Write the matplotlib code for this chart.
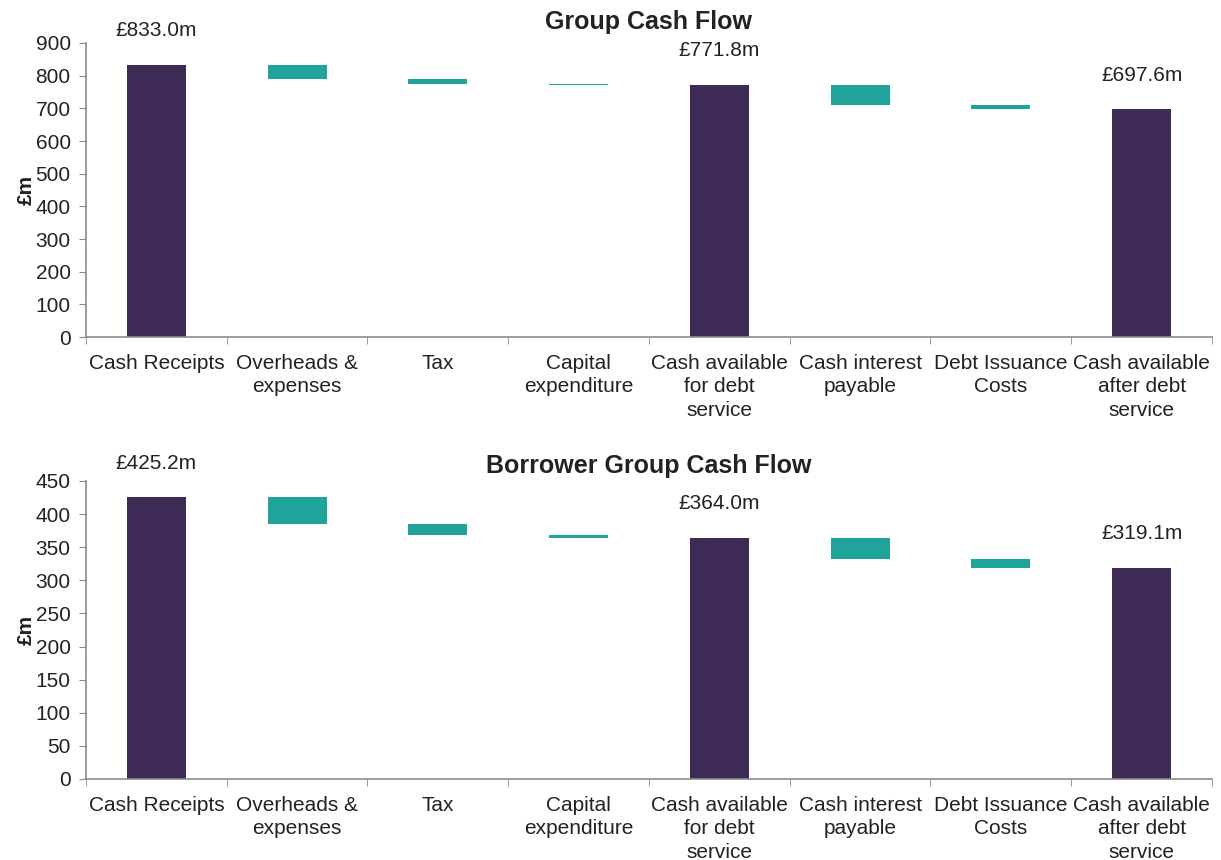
import matplotlib
matplotlib.use("Agg")
import matplotlib.pyplot as plt

plt.rcParams['font.family'] = ['Liberation Sans', 'DejaVu Sans']

# categories shared by both waterfalls
categories = ["Cash Receipts", "Overheads &\nexpenses", "Tax", "Capital\nexpenditure",
              "Cash available\nfor debt\nservice", "Cash interest\npayable",
              "Debt Issuance\nCosts", "Cash available\nafter debt\nservice"]
is_total = [True, False, False, False, True, False, False, True]

# running levels (£m): bar ends for each step
group_levels = [833.0, 790.0, 775.5, 771.8, 771.8, 709.0, 697.6, 697.6]
borrower_levels = [425.2, 385.0, 368.5, 364.0, 364.0, 332.3, 319.1, 319.1]

total_color = "#3d2b56"
step_color = "#1fa39b"
axis_grey = "#8c8c8c"
text_col = "#222222"


def waterfall(ax, levels, title, ymax, ystep, title_y):
    prev = 0
    for i, lvl in enumerate(levels):
        if is_total[i]:
            ax.bar(i, lvl, width=0.42, color=total_color)
            ax.annotate(f"£{lvl:.1f}m", (i, lvl), xytext=(0, 34),
                        textcoords="offset pixels", ha="center", va="center",
                        fontsize=15, color=text_col, annotation_clip=False)
        else:
            ax.bar(i, prev - lvl, bottom=lvl, width=0.42, color=step_color)
        prev = lvl
    ax.set_xlim(-0.5, len(categories) - 0.5)
    ax.set_ylim(0, ymax)
    ax.set_yticks(range(0, ymax + 1, ystep))
    ax.set_xticks(range(len(categories)))
    ax.set_xticklabels(categories, fontsize=15, color=text_col, va="top",
                       linespacing=1.3)
    ax.set_xticks([x - 0.5 for x in range(len(categories) + 1)], minor=True)
    ax.tick_params(axis="x", which="major", length=0, pad=12)
    ax.tick_params(axis="x", which="minor", length=5, color=axis_grey)
    ax.tick_params(axis="y", length=5, color=axis_grey, labelsize=15,
                   labelcolor=text_col, pad=6)
    for s in ["top", "right"]:
        ax.spines[s].set_visible(False)
    for s in ["left", "bottom"]:
        ax.spines[s].set_color(axis_grey)
        ax.spines[s].set_linewidth(1.2)
    ax.set_ylabel("£m", fontsize=15, fontweight="bold", color=text_col, labelpad=0)
    ax.text(0.5, title_y, title, transform=ax.transAxes, ha="center", va="center",
            fontsize=18, fontweight="bold", color=text_col)


fig = plt.figure(figsize=(12.21, 8.6), dpi=100)
ax1 = fig.add_axes([0.0704, 0.6081, 0.9222, 0.3419])
ax2 = fig.add_axes([0.0704, 0.0942, 0.9222, 0.3465])

waterfall(ax1, group_levels, "Group Cash Flow", 900, 100, 1.071)
waterfall(ax2, borrower_levels, "Borrower Group Cash Flow", 450, 50, 1.050)

fig.savefig("out.png", dpi=100)
